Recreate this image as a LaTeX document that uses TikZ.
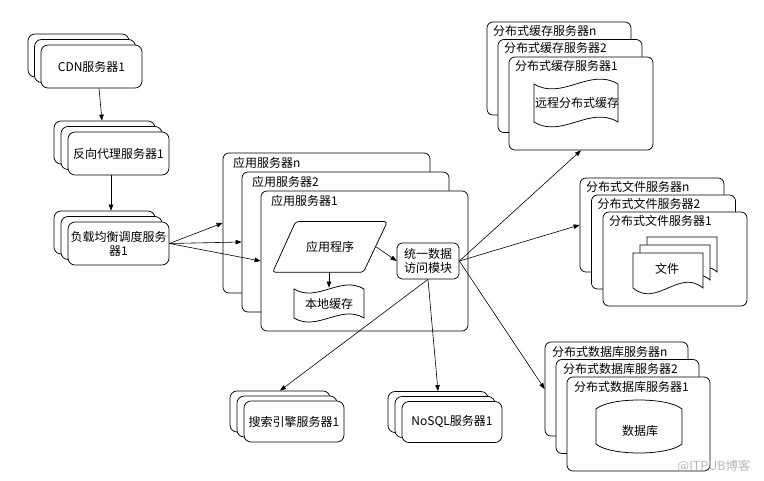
\documentclass[tikz,border=0pt]{standalone}
\usepackage{fontspec}
\setmainfont{Noto Sans CJK SC}
\usetikzlibrary{arrows.meta,calc}
\begin{document}
\begin{tikzpicture}[x=1pt,y=-1pt,line width=0.75pt,
  card/.style={draw,fill=white,rounded corners=7pt,inner sep=0pt,align=center,font=\fontsize{12}{14}\selectfont},
  small/.style={card,minimum width=101pt,minimum height=43pt},
  tiny/.style={card,minimum width=100pt,minimum height=41pt},
  appbox/.style={card,minimum width=207pt,minimum height=140pt,rounded corners=6pt},
  cachebox/.style={card,minimum width=144pt,minimum height=93pt,rounded corners=6pt},
  filebox/.style={card,minimum width=144pt,minimum height=94pt,rounded corners=6pt},
  dbbox/.style={card,minimum width=143pt,minimum height=94pt,rounded corners=6pt},
  lbl/.style={anchor=west,inner sep=0pt,font=\fontsize{12}{14}\selectfont},
  intxt/.style={inner sep=0pt,align=center,font=\fontsize{12}{14}\selectfont},
  arr/.style={-{Triangle[length=6pt,width=4.5pt]},line width=0.6pt},
  shp/.style={draw,fill=white,line width=0.75pt}
]
\useasboundingbox (0,0) rectangle (764,481);

% CDN stack
\node[small] (cdnn) at (78.5,55.5) {};
\node[small] (cdn2) at (85,61) {};
\node[small] (cdn1) at (91.5,66.5) {CDN服务器1};
% reverse proxy stack
\node[small] (proxyn) at (104.5,142.5) {};
\node[small] (proxy2) at (111.5,148) {};
\node[small] (proxy1) at (118.5,153.5) {反向代理服务器1};
% load balancer stack
\node[small] (lbn) at (104.5,232.5) {};
\node[small] (lb2) at (111.5,238) {};
\node[small] (lb1) at (118.5,243.5) {负载均衡调度服务\\器1};

% application servers
\node[appbox] (appn) at (326.5,223) {};
\node[lbl] (appnl) at ($(appn.north west)+(10,10)$) {应用服务器n};
\node[appbox] (app2) at (345.5,242) {};
\node[lbl] (app2l) at ($(app2.north west)+(10,10)$) {应用服务器2};
\node[appbox] (app1) at (364.5,261) {};
\node[lbl] (app1l) at ($(app1.north west)+(10,10)$) {应用服务器1};

% program parallelogram
\node[intxt,minimum width=114pt,minimum height=50pt] (prog) at (330,247) {};
\draw[shp,rounded corners=3pt] ($(prog.north west)+(23,0)$) -- (prog.north east)
  -- ($(prog.south east)+(-24,0)$) -- (prog.south west) -- cycle;
\node[intxt] (progt) at (prog.center) {应用程序};

% local cache (punched tape)
\draw[shp] (294,289) .. controls (317.3,303) and (340.7,275) .. (364,289)
  -- (364,318) .. controls (340.7,304) and (317.3,332) .. (294,318) -- cycle;
\node[intxt,minimum width=70pt,minimum height=31pt] (local) at (329,303.5) {本地缓存};

% unified data access module
\node[card,rounded corners=5pt,minimum width=62pt,minimum height=36pt] (data) at (428,261) {统一数据\\访问模块};

% cache servers
\node[cachebox] (cachen) at (559,68.5) {};
\node[lbl] (cachenl) at ($(cachen.north west)+(6,9)$) {分布式缓存服务器n};
\node[cachebox] (cache2) at (570,86) {};
\node[lbl] (cache2l) at ($(cache2.north west)+(6,9)$) {分布式缓存服务器2};
\node[cachebox] (cache1) at (581,103.5) {};
\node[lbl] (cache1l) at ($(cache1.north west)+(6,9)$) {分布式缓存服务器1};
\draw[shp] (534,84) .. controls (562,101) and (590,67) .. (618,84)
  -- (618,122) .. controls (590,105) and (562,139) .. (534,122) -- cycle;
\node[intxt] (remote) at (577,103) {远程分布式缓存};

% file servers
\node[filebox] (filen) at (652,225) {};
\node[lbl] (filenl) at ($(filen.north west)+(6,9)$) {分布式文件服务器n};
\node[filebox] (file2) at (663.5,242) {};
\node[lbl] (file2l) at ($(file2.north west)+(6,9)$) {分布式文件服务器2};
\node[filebox] (file1) at (675,259) {};
\node[lbl] (file1l) at ($(file1.north west)+(6,9)$) {分布式文件服务器1};
\foreach \dx/\dy in {14/-16,7/-8,0/0}{
  \begin{scope}[shift={(\dx,\dy)}]
    \draw[shp] (633,253) -- (703,253) -- (703,288)
      .. controls (679.7,268) and (656.3,308) .. (633,288) -- cycle;
  \end{scope}
}
\node[intxt] (files) at (667,269) {文件};

% database servers
\node[dbbox] (dbn) at (616.5,389) {};
\node[lbl] (dbnl) at ($(dbn.north west)+(7,10)$) {分布式数据库服务器n};
\node[dbbox] (db2) at (627.5,406.5) {};
\node[lbl] (db2l) at ($(db2.north west)+(7,10)$) {分布式数据库服务器2};
\node[dbbox] (db1) at (638.5,424) {};
\node[lbl] (db1l) at ($(db1.north west)+(7,10)$) {分布式数据库服务器1};
\draw[shp] (596,409) .. controls (610,397) and (668,397) .. (682,409)
  -- (682,444) .. controls (668,456) and (610,456) .. (596,444) -- cycle;
\node[intxt] (dbtxt) at (640,431) {数据库};

% search stack
\node[tiny] (searchn) at (280,411.5) {};
\node[tiny] (search2) at (287,416.5) {};
\node[tiny] (search1) at (294,421.5) {搜索引擎服务器1};
% NoSQL stack
\node[tiny] (nosqln) at (438,412) {};
\node[tiny] (nosql2) at (445,417) {};
\node[tiny] (nosql1) at (452,422) {NoSQL服务器1};

% watermark
\node[inner sep=0pt,text=black!28,font=\fontsize{12.5}{14}\selectfont] (wm) at (714,466) {@ITPUB博客};

% connectors
\draw[arr] ($(cdn1.south)+(7.5,0)$) -- ($(proxyn.north)+(-2.5,0)$);
\draw[arr] ($(proxy1.south)+(-7.5,0)$) -- ($(lbn.north)+(6.5,0)$);
\draw[arr] (lb1.east) -- (appn.west);
\draw[arr] (lb1.east) -- (app2.west);
\draw[arr] (lb1.east) -- (app1.west);
\draw[arr] (prog.south -| local.north) -- (local.north);
\draw[arr] ($(prog.east)+(-11,0)$) -- (data.west);
\draw[arr] (data.east) -- (cache1.south);
\draw[arr] (data.east) -- (filen.west);
\draw[arr] (data.east) -- (dbn.west);
\draw[arr] (data.south) -- (searchn.north);
\draw[arr] (data.south) -- (nosqln.north);
\end{tikzpicture}
\end{document}
